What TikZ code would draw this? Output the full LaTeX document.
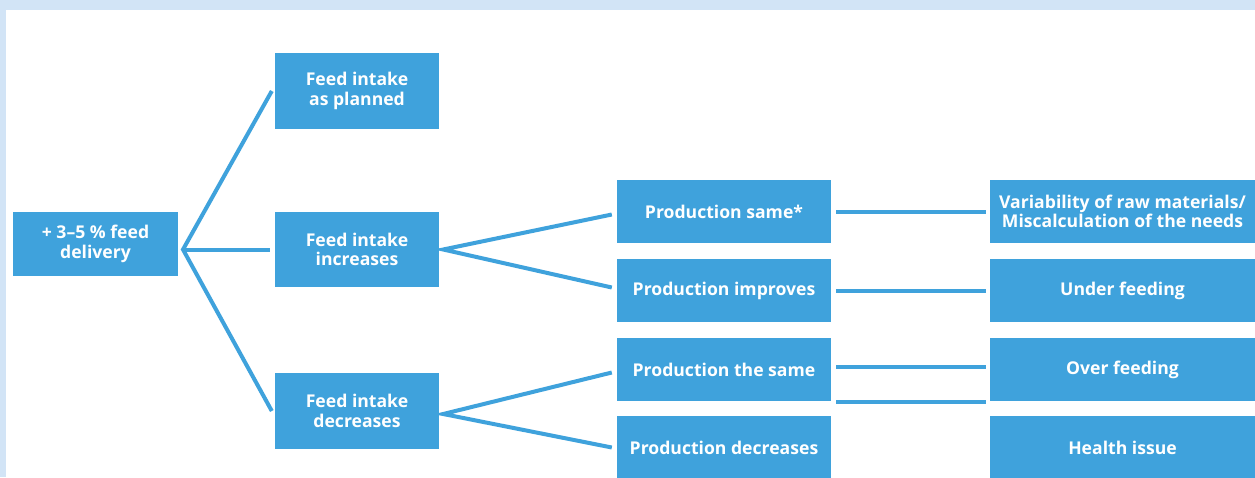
\documentclass[tikz,border=0pt]{standalone}
\usepackage{fontspec}
\setmainfont{Open Sans}
\definecolor{boxblue}{RGB}{63,162,220}
\definecolor{bandblue}{RGB}{210,228,246}
\begin{document}
\begin{tikzpicture}[x=1pt,y=-1pt,
  box/.style={fill=boxblue,draw=none,inner sep=0pt,align=center,text=white,
    font=\bfseries\fontsize{17.6}{19.5}\selectfont},
  conn/.style={draw=boxblue,line width=4pt}]
\useasboundingbox (0,0) rectangle (1255,477);
\clip (0,0) rectangle (1255,477);
\fill[bandblue] (0,0) rectangle (1255,477);
\fill[white] (6,10) rectangle (1260,480);
% column A
\node[box,minimum width=165pt,minimum height=64pt] (A) at (95.5,244) {+ 3--5 \% feed\\delivery};
% column B
\node[box,minimum width=164pt,minimum height=76pt] (B1) at (357,91) {Feed intake\\as planned};
\node[box,minimum width=164pt,minimum height=75pt] (B2) at (357,249.5) {Feed intake\\increases};
\node[box,minimum width=164pt,minimum height=76pt] (B3) at (357,411) {Feed intake\\decreases};
% column C
\node[box,minimum width=214pt,minimum height=63pt] (C1) at (724,211.5) {Production same*};
\node[box,minimum width=214pt,minimum height=63pt] (C2) at (724,290.5) {Production improves};
\node[box,minimum width=214pt,minimum height=63pt] (C3) at (724,369.5) {Production the same};
\node[box,minimum width=214pt,minimum height=63pt] (C4) at (724,447.5) {Production decreases};
% column D
\node[box,minimum width=265pt,minimum height=63pt] (D1) at (1122.5,211.5) {Variability of raw materials/\\Miscalculation of the needs};
\node[box,minimum width=265pt,minimum height=63pt] (D2) at (1122.5,290.5) {Under feeding};
\node[box,minimum width=265pt,minimum height=63pt] (D3) at (1122.5,369.5) {Over feeding};
\node[box,minimum width=265pt,minimum height=63pt] (D4) at (1122.5,447.5) {Health issue};
% connectors
\coordinate (fa) at (183,249.5);
\draw[conn] ([xshift=-3pt]B1.west) -- (fa) -- ([xshift=-3pt]B3.west);
\draw[conn] (fa) -- ([xshift=-5pt]B2.west);
\coordinate (fb) at ([xshift=4pt]B2.east);
\draw[conn] ([xshift=-5pt,yshift=-3pt]C1.west) -- (fb) -- ([xshift=-5pt,yshift=3pt]C2.west);
\coordinate (fc) at ([xshift=4pt,yshift=-3pt]B3.east);
\draw[conn] ([xshift=-5pt,yshift=-3pt]C3.west) -- (fc) -- ([xshift=-5pt]C4.west);
\draw[conn] ([xshift=5pt]C1.east) -- ([xshift=-4pt]D1.west);
\draw[conn] ([xshift=5pt]C2.east) -- ([xshift=-4pt]D2.west);
\draw[conn] ([xshift=5pt,yshift=3pt]C3.east) -- ([xshift=-4pt,yshift=3pt]D3.west);
\draw[conn] ([xshift=5pt,yshift=-1pt]C3.south east) -- ([xshift=-4pt,yshift=-1pt]D3.south west);
\end{tikzpicture}
\end{document}
